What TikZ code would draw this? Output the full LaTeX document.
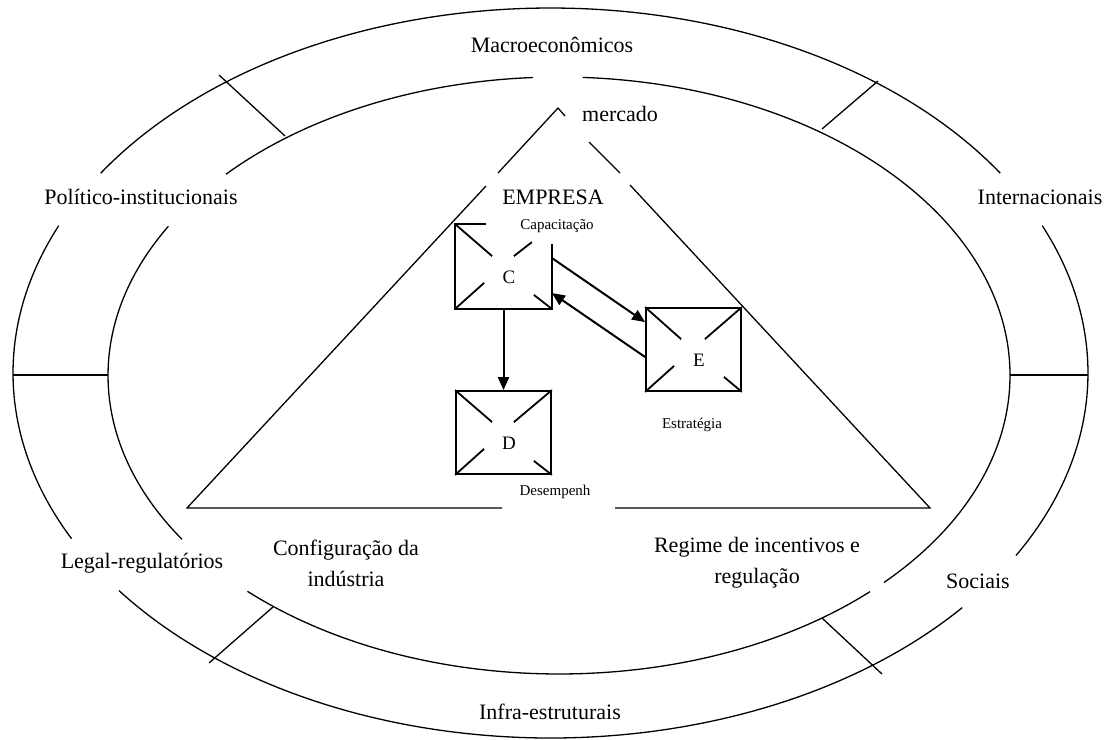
\documentclass[tikz,border=0pt]{standalone}
\usepackage{fontspec}
\setmainfont{Liberation Serif}
\usetikzlibrary{arrows.meta}
\begin{document}
\begin{tikzpicture}[x=0.5pt,y=-0.5pt,line width=0.65pt,
	lbl/.style={inner sep=0pt,align=center,font=\fontsize{11}{15.5}\selectfont},
	small/.style={inner sep=0pt,font=\fontsize{7.5}{9}\selectfont},
	ltr/.style={inner sep=0pt,xshift=2.75pt,yshift=-5.25pt,font=\fontsize{9.5}{11}\selectfont},
	boxline/.style={line width=0.9pt},
	box/.style={boxline,minimum width=47.5pt,minimum height=41.5pt,inner sep=0pt},
	arr/.style={line width=1pt,-{Triangle[length=6.5pt,width=5.5pt]}}]
		\useasboundingbox (0,0) rectangle (1105,740);
		% outer ring
		\draw (550.5,373) ++(-23.8:537.5 and 365) arc[start angle=-23.8,end angle=30,x radius=537.5,y radius=365];
		\draw (550.5,373) ++(40:537.5 and 365) arc[start angle=40,end angle=143.4,x radius=537.5,y radius=365];
		\draw (550.5,373) ++(153:537.5 and 365) arc[start angle=153,end angle=203.8,x radius=537.5,y radius=365];
		\draw (550.5,373) ++(213.2:537.5 and 365) arc[start angle=213.2,end angle=326.8,x radius=537.5,y radius=365];
		% inner ring
		\draw (559,375.5) ++(-87:451 and 298.5) arc[start angle=-87,end angle=43.9,x radius=451,y radius=298.5];
		\draw (559,375.5) ++(46.4:451 and 298.5) arc[start angle=46.4,end angle=133.7,x radius=451,y radius=298.5];
		\draw (559,375.5) ++(146.7:451 and 298.5) arc[start angle=146.7,end angle=210,x radius=451,y radius=298.5];
		\draw (559,375.5) ++(222.4:451 and 298.5) arc[start angle=222.4,end angle=266.7,x radius=451,y radius=298.5];
		% dividers
		\draw (13,375) -- (108,375);
		\draw (1010,375) -- (1088,375);
		\draw (219,75) -- (285,136);
		\draw (878,81) -- (822,129);
		\draw (209,663) -- (273,607);
		\draw (882,674) -- (822,618);
		% triangle
		\draw (498,173) -- (558,108) -- (565,116);
		\draw (486,186) -- (187,508) -- (502,508);
		\draw (589,142) -- (620,173);
		\draw (630,185) -- (930,508) -- (615,508);
		% boxes
		\node[box,label={[ltr]center:C}] (C) at (503.5,266.5) {};
		\node[box,draw,label={[ltr]center:E}] (E) at (693.5,349.5) {};
		\node[box,draw,label={[ltr]center:D}] (D) at (503.5,432.5) {};
		\draw[boxline] (C.north west) ++(31,0) -- (C.north west) -- (C.south west) -- (C.south east) -- ++(0,-65);
		\draw[boxline] (C.north west) -- ++(37,32);
		\draw[boxline] (C.north east) ++(-20,18) -- ++(-18,14);
		\draw[boxline] (C.south west) -- ++(29,-26);
		\draw[boxline] (C.south east) -- ++(-18,-14);
		\draw[boxline] (E.north west) -- ++(36,32);
		\draw[boxline] (E.north east) -- ++(-37,32);
		\draw[boxline] (E.south west) -- ++(29,-26);
		\draw[boxline] (E.south east) -- ++(-18,-15);
		\draw[boxline] (D.north west) -- ++(37,32);
		\draw[boxline] (D.north east) -- ++(-38,32);
		\draw[boxline] (D.south west) -- ++(29,-26);
		\draw[boxline] (D.south east) -- ++(-18,-14);
		\draw[arr] (C.south) -- (D.north);
		\draw[arr] ([yshift=4.25pt]C.east) -- ([yshift=-7.5pt]E.north west);
		\draw[arr] ([yshift=-3.75pt]E.west) -- ([yshift=-13.25pt]C.east);
		% labels
		\node[lbl] (macro) at (552,45) {Macroeconômicos};
		\node[lbl] (polit) at (141,197) {Político-institucionais};
		\node[lbl] (inter) at (1040,197) {Internacionais};
		\node[lbl] (legal) at (142,563) {Legal-regulatórios};
		\node[lbl] (soc) at (978,581) {Sociais};
		\node[lbl] (infra) at (550,712) {Infra-estruturais};
		\node[lbl] (merc) at (620,114) {mercado};
		\node[lbl] (emp) at (553,197) {EMPRESA};
		\node[lbl] (conf) at (346,563) {Configuração da\\indústria};
		\node[lbl] (reg) at (757,563) {Regime de incentivos e\\regulação};
		\node[small] (cap) at (557,226) {Capacitação};
		\node[small] (estr) at (692,425) {Estratégia};
		\node[small] (des) at (555,492) {Desempenh};
	\end{tikzpicture}
\end{document}
